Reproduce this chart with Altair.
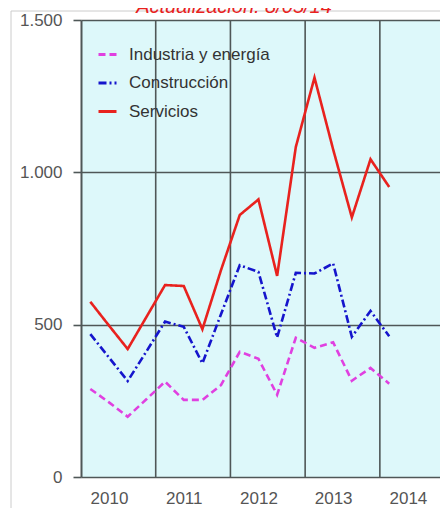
import altair as alt
import pandas as pd

# ---- data ----
quarters = list(range(17))  # 2010 Q1 ... 2014 Q1
series_names = ["Industria y energía", "Construcción", "Servicios"]
industria = [289, 245, 198, 255, 313, 253, 253, 302, 411, 388, 270, 457, 424, 442, 316, 358, 306]
construccion = [469, 392, 315, 412, 510, 493, 373, 535, 695, 673, 458, 670, 668, 701, 460, 545, 462]
servicios = [575, 497, 420, 525, 630, 627, 485, 680, 860, 911, 660, 1083, 1311, 1075, 852, 1043, 952]
year_labels = ["2010", "2011", "2012", "2013", "2014"]
year_label_pos = [1, 5, 9, 13, 17]
year_bounds = [3.5, 7.5, 11.5, 15.5]
y_ticks = [0, 500, 1000, 1500]
title_text = "Actualización: 8/05/14"

colors = ["#e040e0", "#1515cc", "#e8221e"]
dashes = [[7, 4], [8, 3, 2, 3], [1, 0]]

rows = []
for name, vals in zip(series_names, [industria, construccion, servicios]):
    for q, v in zip(quarters, vals):
        rows.append({"q": q, "v": v, "s": name})
df = pd.DataFrame(rows)

x_scale = alt.Scale(domain=[-0.5, 18.72], nice=False, zero=False)
y_scale = alt.Scale(domain=[0, 1500], nice=False)
GRID = "#4f5757"

label_map = "{" + ",".join(f"'{p}':'{l}'" for p, l in zip(year_label_pos, year_labels)) + "}"

legend = alt.Legend(
    title=None, orient="none", legendX=16, legendY=24,
    symbolType="stroke", symbolSize=324, symbolStrokeWidth=3,
    labelFontSize=17, labelColor="#333333", labelFont="Liberation Sans",
    labelOffset=11, rowPadding=9.5, padding=0,
)

lines = alt.Chart(df).mark_line(strokeWidth=2.6).encode(
    x=alt.X("q:Q", scale=x_scale, axis=alt.Axis(
        values=year_label_pos, labelExpr=label_map + "[toString(datum.value)]",
        grid=False, ticks=False, domain=False, title=None,
        labelFontSize=17, labelColor="#555555", labelFont="Liberation Sans",
        labelPadding=13)),
    y=alt.Y("v:Q", scale=y_scale, axis=alt.Axis(
        values=y_ticks, labelExpr="replace(format(datum.value, ','), ',', '.')",
        grid=True, gridColor=GRID, gridWidth=1.6, gridOpacity=1,
        tickSize=8, tickColor=GRID, tickWidth=1.6,
        domainColor=GRID, domainWidth=2, title=None,
        labelFontSize=17, labelColor="#555555", labelFont="Liberation Sans",
        labelPadding=11)),
    color=alt.Color("s:N", scale=alt.Scale(domain=series_names, range=colors), legend=legend),
    strokeDash=alt.StrokeDash("s:N", scale=alt.Scale(domain=series_names, range=dashes), legend=legend),
)

rules = alt.Chart(pd.DataFrame({"b": year_bounds})).mark_rule(color=GRID, strokeWidth=1.6).encode(
    x=alt.X("b:Q", scale=x_scale),
    y=alt.Y(datum=0, scale=y_scale),
    y2=alt.Y2(datum=1500),
)

frame_v = alt.Chart().mark_rule(color="#cccccc", strokeWidth=1).encode(
    x=alt.value(-70), y=alt.value(-9), y2=alt.value(490))
frame_h = alt.Chart().mark_rule(color="#cccccc", strokeWidth=1).encode(
    x=alt.value(-70), x2=alt.value(360), y=alt.value(-9))

title = alt.Chart().mark_text(
    text=title_text, color="#e8221e", font="Liberation Sans", fontStyle="italic",
    fontSize=20, align="center", baseline="alphabetic").encode(
    x=alt.value(153), y=alt.value(-7))

chart = alt.layer(frame_v, frame_h, rules, lines, title).properties(
    width=359, height=457,
    autosize=alt.AutoSizeParams(type="none"),
    padding={"left": 73, "top": 12, "right": 0, "bottom": 31},
).configure_view(fill="#ddf8fa", stroke="transparent")

chart.save("out.html", embed_options={"renderer": "svg", "actions": False})
